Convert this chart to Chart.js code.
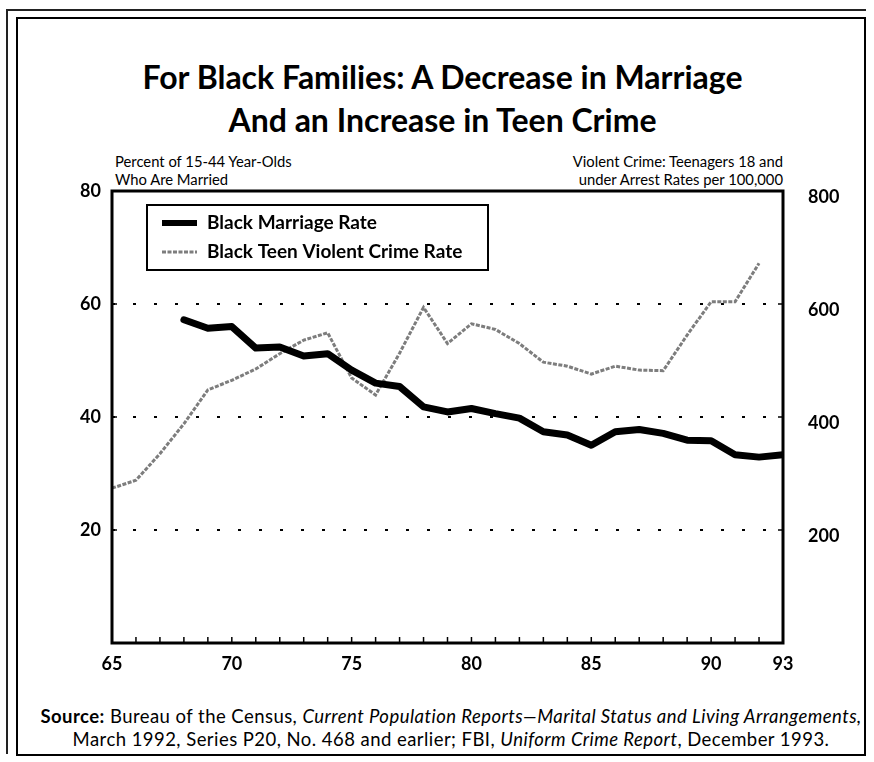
<!DOCTYPE html>
<html>
<head>
<meta charset="utf-8">
<script src="https://cdn.jsdelivr.net/npm/chart.js@4.4.0/dist/chart.umd.min.js"></script>
<style>
  html, body { margin:0; padding:0; background:#fff; }
  body { width:874px; height:762px; position:relative; overflow:hidden; font-family: Lato, "Open Sans", sans-serif; color:#000; }
  #wrap { position:absolute; left:0; top:0; width:874px; height:762px; }
  .frame { position:absolute; left:16px; top:17px; width:850px; height:739px; border:2.5px solid #000; box-sizing:border-box; }
  .outer1 { position:absolute; left:6px; top:9px; width:2px; height:745px; background:#222; }
  .outer2 { position:absolute; left:6px; top:9px; width:860px; height:1.5px; background:#222; }
  .title { position:absolute; left:17px; width:851px; top:55px; text-align:center; font-size:32px; font-weight:700; line-height:43px; }
  .ltitle { position:absolute; left:115px; top:152px; font-size:14.8px; line-height:18px; }
  .rtitle { position:absolute; right:91px; top:152px; font-size:14.8px; line-height:18px; text-align:right; }
  .source { position:absolute; left:17px; width:868px; top:705px; text-align:center; font-size:18.5px; line-height:23px; letter-spacing:0.45px; }
  canvas { position:absolute; left:0; top:0; }
</style>
</head>
<body>
<div class="outer1"></div><div class="outer2"></div>
<div class="frame"></div>
<div class="title">For Black Families: A Decrease in Marriage<br>And an Increase in Teen Crime</div>
<div class="ltitle">Percent of 15-44 Year-Olds<br>Who Are Married</div>
<div class="rtitle">Violent Crime: Teenagers 18 and<br>under Arrest Rates per 100,000</div>
<div class="source"><b>Source:</b> Bureau of the Census, <i>Current Population Reports—Marital Status and Living Arrangements,</i><br>March 1992, Series P20, No. 468 and earlier; FBI, <i>Uniform Crime Report</i>, December 1993.</div>
<div id="wrap"><canvas id="c" width="874" height="762"></canvas></div>
<script>
// ---- Data ----
const years = [65,66,67,68,69,70,71,72,73,74,75,76,77,78,79,80,81,82,83,84,85,86,87,88,89,90,91,92,93];
const marriageRate = [null,null,null,57.2,55.7,56.0,52.2,52.4,50.8,51.2,48.3,46.0,45.4,41.8,40.9,41.5,40.6,39.8,37.4,36.8,35.0,37.4,37.8,37.1,35.9,35.8,33.3,32.9,33.3];
const crimeRate = [274,288,335,388,448,465,485,512,536,549,469,439,513,594,530,565,555,530,497,490,476,490,483,482,545,604,604,672,null];
const xTickLabels = [65,70,75,80,85,90,93];
const leftTicks = [20,40,60,80];
const rightTicks = [200,400,600,800];
const seriesNames = ['Black Marriage Rate','Black Teen Violent Crime Rate'];

const FONT = 'Lato, "Open Sans", sans-serif';

const framePlugin = {
  id: 'framePlugin',
  afterDatasetsDraw(chart) {
    const {ctx, chartArea: a, scales} = chart;
    ctx.save();
    ctx.strokeStyle = '#000';
    ctx.lineWidth = 3;
    ctx.strokeRect(a.left, a.top, a.right - a.left, a.bottom - a.top);
    // inward minor ticks on the x axis (one per year)
    ctx.lineWidth = 1.5;
    years.forEach(v => {
      if (v === years[0] || v === years[years.length-1]) return;
      const px = scales.x.getPixelForValue(v);
      ctx.beginPath(); ctx.moveTo(px, a.bottom); ctx.lineTo(px, a.bottom - 6); ctx.stroke();
    });
    leftTicks.slice(0,3).forEach(v => {
      const py = scales.y.getPixelForValue(v);
      ctx.beginPath(); ctx.moveTo(a.left, py); ctx.lineTo(a.left + 5, py); ctx.stroke();
    });
    rightTicks.slice(0,3).forEach(v => {
      const py = scales.y1.getPixelForValue(v);
      ctx.beginPath(); ctx.moveTo(a.right, py); ctx.lineTo(a.right - 5, py); ctx.stroke();
    });
    // legend box
    const bx = a.left + 35, by = a.top + 14, bw = 341, bh = 65;
    ctx.fillStyle = '#fff';
    ctx.fillRect(bx, by, bw, bh);
    ctx.lineWidth = 2;
    ctx.strokeRect(bx, by, bw, bh);
    const ds = chart.data.datasets;
    const rows = [by + 18, by + 47];
    ds.forEach((d, i) => {
      ctx.save();
      ctx.strokeStyle = d.borderColor;
      ctx.lineWidth = i === 0 ? 6 : 3;
      if (d.borderDash) ctx.setLineDash(d.borderDash);
      ctx.beginPath(); ctx.moveTo(bx + 15, rows[i]); ctx.lineTo(bx + 50, rows[i]); ctx.stroke();
      ctx.restore();
      ctx.fillStyle = '#000';
      ctx.font = 'bold 19px ' + FONT;
      ctx.textBaseline = 'middle';
      ctx.textAlign = 'left';
      ctx.fillText(d.label, bx + 60, rows[i]);
    });
    ctx.restore();
  }
};

new Chart(document.getElementById('c'), {
  type: 'line',
  data: {
    datasets: [
      {
        label: seriesNames[0],
        data: years.map((x, i) => ({x, y: marriageRate[i]})).filter(p => p.y !== null),
        borderColor: '#000', borderWidth: 7, pointRadius: 0, tension: 0,
        borderJoinStyle: 'round', borderCapStyle: 'round', yAxisID: 'y', order: 1
      },
      {
        label: seriesNames[1],
        data: years.map((x, i) => ({x, y: crimeRate[i]})).filter(p => p.y !== null),
        borderColor: '#7d7d7d', borderWidth: 3, borderDash: [4, 1.5], pointRadius: 0, tension: 0,
        yAxisID: 'y1', order: 2
      }
    ]
  },
  options: {
    responsive: false, animation: false, devicePixelRatio: 1,
    layout: { padding: { top: 191, left: 0, right: 0, bottom: 0 } },
    plugins: { legend: { display: false }, tooltip: { enabled: false } },
    scales: {
      x: {
        type: 'linear', min: 65, max: 93,
        afterBuildTicks: s => { s.ticks = xTickLabels.map(v => ({value: v})); },
        afterFit: s => { s.height = 119; },
        grid: { display: false },
        border: { display: false },
        ticks: { color: '#000', padding: 2, font: { family: FONT, size: 18, weight: 'bold' }, maxRotation: 0, autoSkip: false }
      },
      y: {
        position: 'left', min: 0, max: 80,
        afterBuildTicks: s => { s.ticks = leftTicks.map(v => ({value: v})); },
        afterFit: s => { s.width = 112; },
        grid: { drawTicks: false, lineWidth: 2, color: c => (c.tick && c.tick.value < 80) ? '#000' : 'rgba(0,0,0,0)' },
        border: { display: false, dash: [3, 18] },
        ticks: { color: '#000', padding: 11, font: { family: FONT, size: 18, weight: 'bold' } }
      },
      y1: {
        position: 'right', min: 0, max: 800,
        afterBuildTicks: s => { s.ticks = rightTicks.map(v => ({value: v})); },
        afterFit: s => { s.width = 91; },
        grid: { display: false, drawOnChartArea: false },
        border: { display: false },
        ticks: { color: '#000', padding: 17, labelOffset: 6, font: { family: FONT, size: 18, weight: 'bold' } }
      }
    }
  },
  plugins: [framePlugin]
});
</script>
</body>
</html>
